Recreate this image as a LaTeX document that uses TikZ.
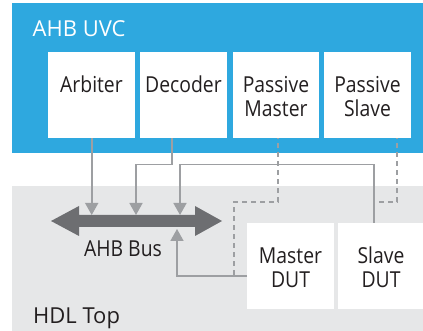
\documentclass[tikz,border=0pt]{standalone}
\usepackage{fontspec}
\setmainfont{Open Sans}
\newfontfamily\narrowsans{Open Sans}[FakeStretch=0.88]
\usetikzlibrary{arrows.meta}
\definecolor{uvcblue}{HTML}{2EA8DF}
\definecolor{topgray}{HTML}{E6E7E8}
\definecolor{wiregray}{HTML}{9D9FA2}
\definecolor{busgray}{HTML}{6D6E71}
\definecolor{inkdark}{HTML}{231F20}
\begin{document}
\begin{tikzpicture}[x=1pt,y=-1pt,
  block/.style={fill=white, draw=none, inner sep=0pt, anchor=north west},
  txt/.style={font=\narrowsans\fontsize{22}{24}\selectfont, text=inkdark, align=center, anchor=base, inner sep=0pt},
  title/.style={font=\fontsize{22}{24}\selectfont, text=inkdark, anchor=base west, inner sep=0pt},
  wire/.style={draw=wiregray, line width=1.7pt},
  probewire/.style={wire, dash pattern=on 5pt off 4pt, dash phase=4pt},
  arrowed/.style={-{Triangle[width=13pt,length=12pt]}}
]
\useasboundingbox (0,0) rectangle (423,331);

% environment panels
\fill[uvcblue] (12,3) rectangle (423,153);
\fill[topgray] (12,186) rectangle (423,331);

% UVC components
\node[block, minimum width=87pt, minimum height=86pt] (arb) at (48,52) {};
\node[block, minimum width=87pt, minimum height=86pt] (dec) at (140,52) {};
\node[block, minimum width=86pt, minimum height=86pt] (pm)  at (233,52) {};
\node[block, minimum width=87pt, minimum height=86pt] (ps)  at (324,52) {};

% DUTs
\node[block, minimum width=87pt, minimum height=86pt] (mdut) at (247,223) {};
\node[block, minimum width=85pt, minimum height=86pt] (sdut) at (338,223) {};

% labels (two-line labels are placed by their last baseline)
\node[title, text=white] (uvcT) at (32.5,37) {AHB UVC};
\node[title] (hdlT) at (33,323) {HDL Top};
\node[txt] (arbT) at (91.5,93) {Arbiter};
\node[txt] (decT) at (183.5,93) {Decoder};
\node[txt] (pmT) at (276,117) {Passive\\Master};
\node[txt] (psT) at (367.5,117) {Passive\\Slave};
\node[txt] (mdT) at (290.5,287) {Master\\DUT};
\node[txt] (sdT) at (381,287) {Slave\\DUT};
\node[txt] (busT) at (123,257) {AHB Bus};

% AHB bus double arrow
\fill[busgray] (51,221) -- (79,206) -- (79,215) -- (195,215) -- (195,206)
  -- (222,221) -- (195,236) -- (195,227) -- (79,227) -- (79,236) -- cycle;
\coordinate (busTop) at (0,215);
\coordinate (busBot) at (0,229);

% routing points
\coordinate (decOut) at ([xshift=-11.5pt]dec.south);
\coordinate (decBend) at (136,164.5);
\coordinate (sdOut) at ([xshift=-6.5pt]sdut.north);
\coordinate (sdBend) at (180,164.5);
\coordinate (mdOut) at ([yshift=-10pt]mdut.west);
\coordinate (mdBend) at (177,0);
\coordinate (pmOut) at ([xshift=2pt]pm.south);
\coordinate (pmBend) at (234,202);
\coordinate (psOut) at ([xshift=29.5pt]ps.south);
\coordinate (psBend) at (0,202);

% solid connections to the bus
\draw[wire, arrowed] (arb.south) -- (arb.south |- busTop);
\draw[wire, arrowed] (decOut) |- (decBend) -- (decBend |- busTop);
\draw[wire, arrowed] (sdOut) |- (sdBend) -- (sdBend |- busTop);
\draw[wire, arrowed] (mdOut) -| (mdBend |- busBot);

% passive monitor taps
\draw[probewire] (pmOut) |- (pmBend) -- (pmBend |- mdOut);
\draw[probewire] (psOut) |- (sdOut |- psBend);
\end{tikzpicture}
\end{document}
